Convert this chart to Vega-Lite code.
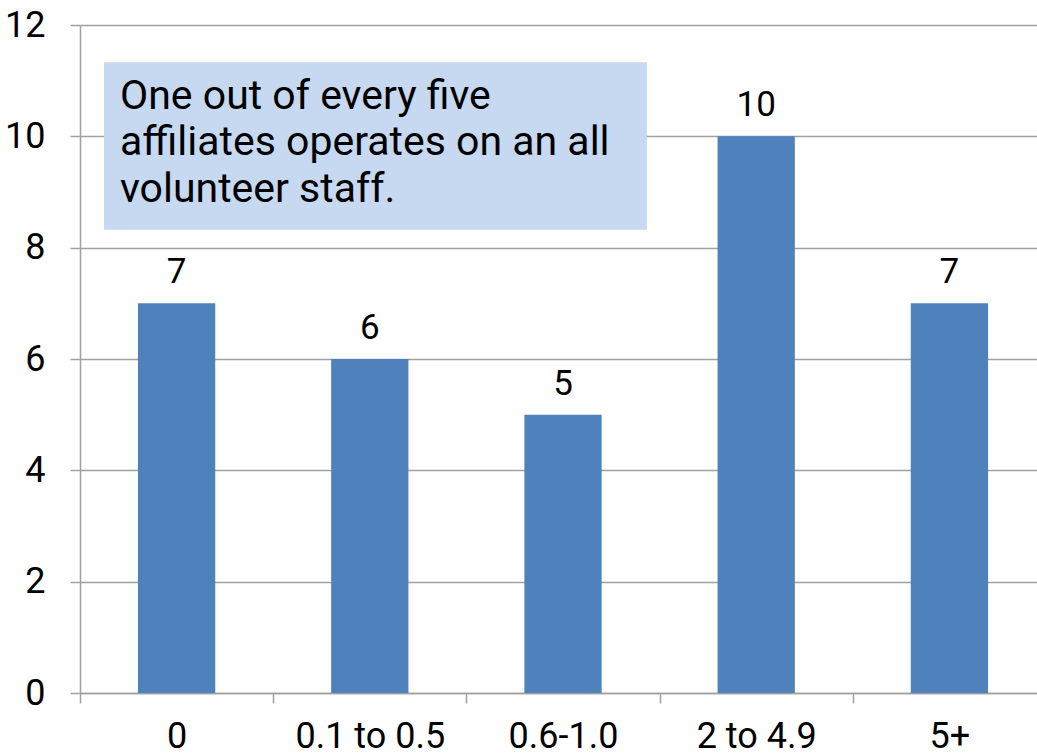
{
  "$schema": "https://vega.github.io/schema/vega-lite/v6.json",
  "autosize": {"type": "none"},
  "padding": {"left": 80, "top": 25, "right": 0, "bottom": 63},
  "width": 966,
  "height": 668,
  "background": "white",
  "config": {
    "view": {"stroke": null},
    "font": "Roboto",
    "text": {"font": "Roboto"}
  },
  "datasets": {
    "bars": [
      {"category": "0", "count": 7},
      {"category": "0.1 to 0.5", "count": 6},
      {"category": "0.6-1.0", "count": 5},
      {"category": "2 to 4.9", "count": 10},
      {"category": "5+", "count": 7}
    ],
    "note": [
      {"note": "One out of every five\naffiliates operates on an all\nvolunteer staff."}
    ]
  },
  "layer": [
    {
      "data": {"name": "bars"},
      "mark": {"type": "bar", "color": "#4f81bd"},
      "encoding": {
        "x": {
          "field": "category", "type": "nominal", "sort": null,
          "scale": {"paddingInner": 0.6, "paddingOuter": 0.3},
          "axis": {
            "title": null, "labelAngle": 0, "bandPosition": 0, "tickOffset": -58, "labelOffset": 58, "orient": "bottom",
            "labelFont": "Roboto", "labelFontSize": 36, "labelColor": "#000000",
            "labelPadding": 16, "tickSize": 10, "tickColor": "#a0a0a0", "tickWidth": 1.5,
            "domainColor": "#a0a0a0", "domainWidth": 1.5, "grid": false
          }
        },
        "y": {
          "field": "count", "type": "quantitative",
          "scale": {"domain": [0, 12], "nice": false},
          "axis": {
            "title": null, "values": [0, 2, 4, 6, 8, 10, 12], "format": "d",
            "labelFont": "Roboto", "labelFontSize": 36, "labelColor": "#000000",
            "labelPadding": 25, "tickSize": 10, "tickColor": "#a0a0a0", "tickWidth": 1.5,
            "domainColor": "#a0a0a0", "domainWidth": 1.5,
            "grid": true, "gridColor": "#a0a0a0", "gridWidth": 1.5
          }
        }
      }
    },
    {
      "data": {"name": "bars"},
      "mark": {"type": "text", "baseline": "alphabetic", "dy": -20, "fontSize": 35, "color": "#000000", "font": "Roboto"},
      "encoding": {
        "x": {"field": "category", "type": "nominal", "sort": null,
              "scale": {"paddingInner": 0.6, "paddingOuter": 0.3}, "axis": null},
        "y": {"field": "count", "type": "quantitative", "scale": {"domain": [0, 12], "nice": false}},
        "text": {"field": "count", "type": "quantitative"}
      }
    },
    {
      "data": {"name": "note"},
      "mark": {"type": "rect", "color": "#c6d9f1", "opacity": 1},
      "encoding": {
        "x": {"datum": 0.124, "type": "quantitative", "scale": {"domain": [0, 5], "nice": false, "zero": true}, "axis": null},
        "x2": {"datum": 2.934},
        "y": {"datum": 11.33, "type": "quantitative", "scale": {"domain": [0, 12], "nice": false}},
        "y2": {"datum": 8.32}
      }
    },
    {
      "data": {"name": "note"},
      "mark": {"type": "text", "align": "left", "baseline": "alphabetic", "lineBreak": "\n", "lineHeight": 46.7, "fontSize": 41, "color": "#000000", "font": "Roboto"},
      "encoding": {
        "x": {"datum": 0.207, "type": "quantitative", "scale": {"domain": [0, 5], "nice": false, "zero": true}, "axis": null},
        "y": {"datum": 10.5, "type": "quantitative", "scale": {"domain": [0, 12], "nice": false}},
        "text": {"field": "note", "type": "nominal"}
      }
    }
  ],
  "resolve": {"scale": {"x": "independent"}, "axis": {"x": "independent"}}
}
